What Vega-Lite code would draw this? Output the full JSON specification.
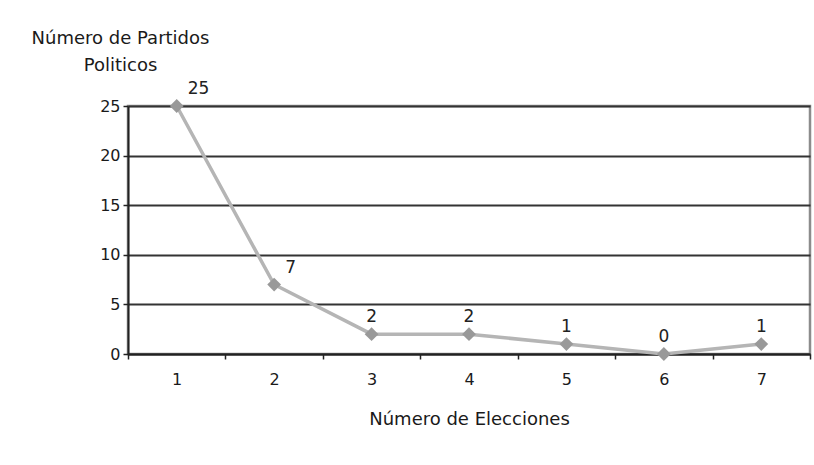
{
  "$schema": "https://vega.github.io/schema/vega-lite/v6.json",
  "width": 682,
  "height": 248,
  "autosize": {"type": "none"},
  "padding": {"left": 128, "top": 106, "right": 4, "bottom": 111},
  "background": "white",
  "config": {
    "font": "DejaVu Sans",
    "view": {"stroke": "#8c8c8c", "strokeWidth": 2.5}
  },
  "data": {
    "values": [
      {"elecciones": 1, "partidos": 25},
      {"elecciones": 2, "partidos": 7},
      {"elecciones": 3, "partidos": 2},
      {"elecciones": 4, "partidos": 2},
      {"elecciones": 5, "partidos": 1},
      {"elecciones": 6, "partidos": 0},
      {"elecciones": 7, "partidos": 1}
    ]
  },
  "encoding": {
    "x": {
      "field": "elecciones",
      "type": "ordinal",
      "scale": {"type": "band", "paddingInner": 0, "paddingOuter": 0},
      "axis": {
        "title": "Número de Elecciones",
        "titleFontSize": 18,
        "titleFontWeight": "normal",
        "titleColor": "#1a1a1a",
        "titlePadding": 23,
        "labelAngle": 0,
        "labelFontSize": 16,
        "labelColor": "#1a1a1a",
        "labelPadding": 12,
        "tickBand": "extent",
        "tickSize": 5,
        "tickColor": "#222",
        "tickWidth": 1.5,
        "domainColor": "#222",
        "domainWidth": 2,
        "grid": false
      }
    },
    "y": {
      "field": "partidos",
      "type": "quantitative",
      "scale": {"domain": [0, 25], "nice": false},
      "axis": {
        "values": [0, 5, 10, 15, 20, 25],
        "title": ["Número de Partidos", "Politicos"],
        "titleAngle": 0,
        "titleAlign": "center",
        "titleBaseline": "top",
        "titleX": -8,
        "titleY": -77,
        "titleLineHeight": 27,
        "titleFontSize": 18,
        "titleFontWeight": "normal",
        "titleColor": "#1a1a1a",
        "labelFontSize": 16,
        "labelColor": "#1a1a1a",
        "labelPadding": 3,
        "tickSize": 5,
        "tickColor": "#222",
        "tickWidth": 1.5,
        "domainColor": "#222",
        "domainWidth": 2,
        "grid": true,
        "gridColor": "#333",
        "gridWidth": 1.8
      }
    }
  },
  "layer": [
    {"mark": {"type": "line", "color": "#b5b5b5", "strokeWidth": 3.5}},
    {"mark": {"type": "point", "shape": "diamond", "filled": true, "color": "#999999", "size": 190, "opacity": 1}},
    {
      "transform": [{"filter": "datum.elecciones > 2"}],
      "mark": {"type": "text", "dy": -17, "fontSize": 17, "color": "#222"},
      "encoding": {"text": {"field": "partidos", "type": "quantitative"}}
    },
    {
      "transform": [{"filter": "datum.elecciones <= 2"}],
      "mark": {"type": "text", "align": "left", "dx": 11, "dy": -17, "fontSize": 17, "color": "#222"},
      "encoding": {"text": {"field": "partidos", "type": "quantitative"}}
    }
  ]
}
